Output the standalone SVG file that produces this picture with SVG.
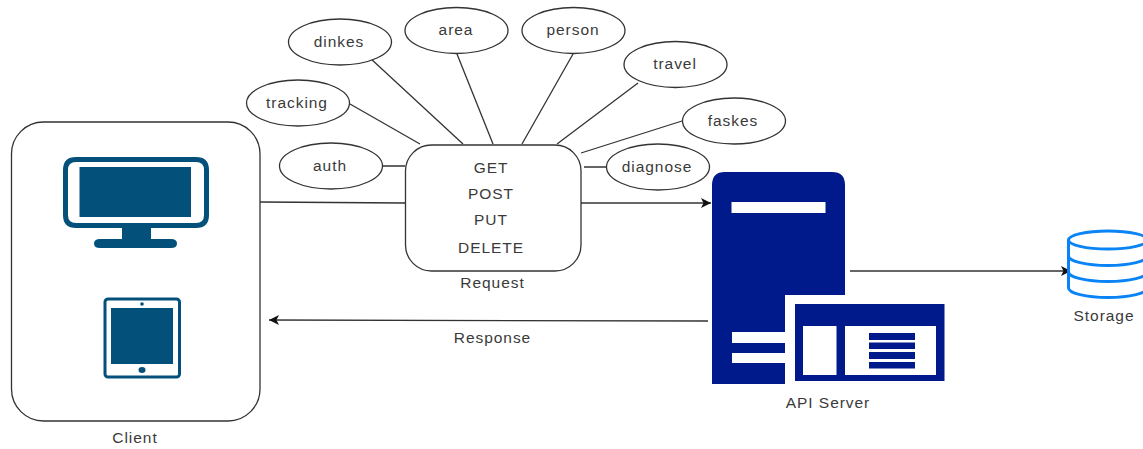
<svg xmlns="http://www.w3.org/2000/svg" width="1143" height="449" viewBox="0 0 1143 449">
<style>
text{font-family:"Liberation Sans",Arial,sans-serif;font-size:15.5px;fill:#3a3a3a;text-anchor:middle;dominant-baseline:central;letter-spacing:.95px}
.b{fill:#fff;stroke:#333;stroke-width:1.3}
.c{fill:none;stroke:#333;stroke-width:1.3}
.m{fill:#03517a}
.s{fill:#001a8c}
.w{fill:#fff}
.d{fill:#fff;stroke:#0a84f5;stroke-width:3}
</style>
<defs><marker id="a" markerUnits="userSpaceOnUse" markerWidth="11" markerHeight="10" refX="10" refY="5" orient="auto"><path d="M0 0L10 5L0 10L2.5 5Z" fill="#111"/></marker></defs>
<rect width="1143" height="449" fill="#fff"/>
<g id="connectors">
<path class="c" d="M383 166H405M350 104L420 144M370 58L463 144M457 54L493 144M573 54L522 144M638 83L557 144M682 121L581 153M607 167H584M260 202L405 203"/>
<path class="c" marker-end="url(#a)" d="M581 203H711"/>
<path class="c" marker-end="url(#a)" d="M850 271L1071 271"/>
<path class="c" marker-end="url(#a)" d="M708 321L269 320"/>
</g>
<g id="client">
<rect class="b" x="11.5" y="122" width="248.500" height="299" rx="32"/>
<path class="m" fill-rule="evenodd" d="M76 157H196Q209 157 209 170V215Q209 228 196 228H151V239H171Q177 239 177 243.500Q177 248 171 248H100Q94 248 94 243.500Q94 239 100 239H122V228H76Q63 228 63 215V170Q63 157 76 157ZM76 162Q68 162 68 170V215Q68 223 76 223H196Q204 223 204 215V170Q204 162 196 162Z"/>
<rect class="m" x="79.500" y="167" width="111.500" height="50"/>
<rect x="105" y="299" width="74.500" height="78" rx="3" fill="#fff" stroke="#03517a" stroke-width="3"/>
<rect class="m" x="111" y="308" width="62" height="56"/>
<circle class="m" cx="142" cy="304" r="1.800"/>
<ellipse class="m" cx="142" cy="370" rx="3.500" ry="3"/>
<text x="135" y="437">Client</text>
</g>
<g id="auth"><ellipse class="b" cx="331" cy="166" rx="51.500" ry="23"/><text x="330" y="165">auth</text></g>
<g id="tracking"><ellipse class="b" cx="298" cy="103" rx="51.500" ry="23"/><text x="297" y="102">tracking</text></g>
<g id="dinkes"><ellipse class="b" cx="340" cy="42" rx="51.500" ry="23"/><text x="339" y="41">dinkes</text></g>
<g id="area"><ellipse class="b" cx="456.500" cy="30.500" rx="51.500" ry="23"/><text x="456" y="29.500">area</text></g>
<g id="person"><ellipse class="b" cx="573.500" cy="30.500" rx="51.500" ry="23"/><text x="573" y="29.500">person</text></g>
<g id="travel"><ellipse class="b" cx="675.500" cy="64.500" rx="51.500" ry="23"/><text x="675" y="63.500">travel</text></g>
<g id="faskes"><ellipse class="b" cx="734" cy="121" rx="51.500" ry="23"/><text x="733" y="120">faskes</text></g>
<g id="diagnose"><ellipse class="b" cx="658" cy="167" rx="51.500" ry="23"/><text x="657" y="166">diagnose</text></g>
<g id="request">
<rect class="b" x="405.500" y="145" width="175.500" height="126" rx="26"/>
<text x="491" y="167">GET</text>
<text x="491" y="193">POST</text>
<text x="491" y="219">PUT</text>
<text x="491" y="247">DELETE</text>
<text x="492.500" y="282">Request</text>
</g>
<g id="api-server">
<path class="s" d="M725 172H832Q845 172 845 185V295H785V384H712V185Q712 172 725 172Z"/>
<rect class="w" x="731.500" y="202" width="94" height="11"/>
<rect class="w" x="732" y="332" width="53" height="11"/>
<rect class="w" x="732" y="353" width="53" height="10"/>
<rect class="s" x="795" y="304" width="149.500" height="77"/>
<rect class="w" x="803" y="326" width="33.500" height="49"/>
<rect class="w" x="845" y="326" width="91" height="49"/>
<path class="s" d="M869 333H915V340H869ZM869 342.500H915V349H869ZM869 352H915V359H869ZM869 362H915V368.500H869Z"/>
<text x="828" y="402">API Server</text>
</g>
<g id="storage">
<path class="d" d="M1068.500 240V288C1068.500 293 1086 297.500 1108 297.500S1147.500 293 1147.500 288V240"/>
<path class="c" style="stroke:#0a84f5;stroke-width:3" d="M1068.500 256C1068.500 261 1086 265.500 1108 265.500S1147.500 261 1147.500 256M1068.500 272C1068.500 277 1086 281.500 1108 281.500S1147.500 277 1147.500 272"/>
<ellipse class="d" cx="1108" cy="240" rx="39.500" ry="9"/>
<text x="1104" y="315">Storage</text>
</g>
<g id="response"><text x="492.500" y="337">Response</text></g>
</svg>
